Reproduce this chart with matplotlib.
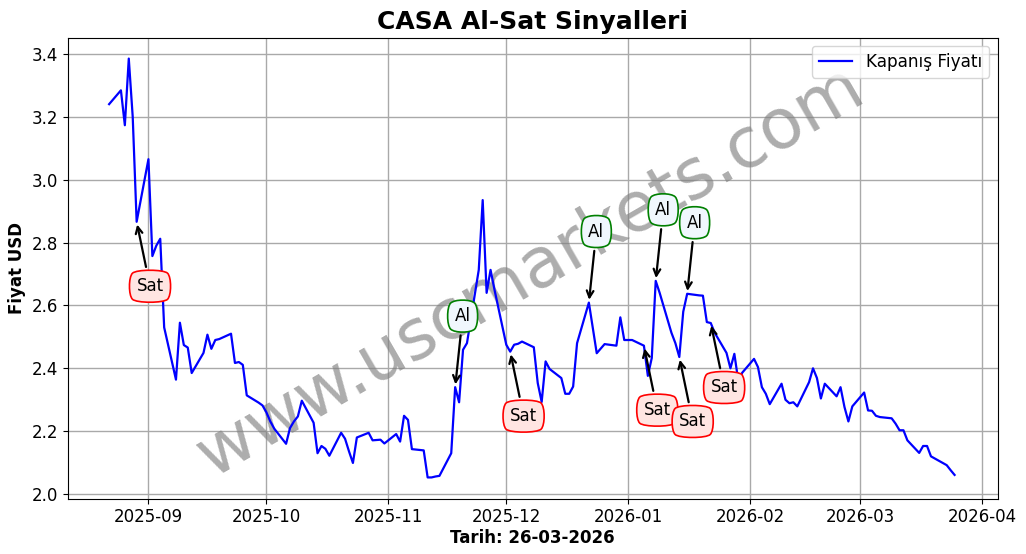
import matplotlib
matplotlib.use('Agg')
import matplotlib.dates as mdates
import matplotlib.pyplot as plt
import pandas as pd

dates = [
    '2025-08-22', '2025-08-25', '2025-08-26', '2025-08-27', '2025-08-28', '2025-08-29',
    '2025-09-01', '2025-09-02', '2025-09-03', '2025-09-04', '2025-09-05', '2025-09-08', '2025-09-09',
    '2025-09-10', '2025-09-11', '2025-09-12', '2025-09-15', '2025-09-16', '2025-09-17', '2025-09-18',
    '2025-09-19', '2025-09-22', '2025-09-23', '2025-09-24', '2025-09-25', '2025-09-26', '2025-09-29',
    '2025-09-30',
    '2025-10-01', '2025-10-02', '2025-10-03', '2025-10-06', '2025-10-07', '2025-10-08', '2025-10-09',
    '2025-10-10', '2025-10-13', '2025-10-14', '2025-10-15', '2025-10-16', '2025-10-17', '2025-10-20',
    '2025-10-21', '2025-10-22', '2025-10-23', '2025-10-24', '2025-10-27', '2025-10-28', '2025-10-29',
    '2025-10-30', '2025-10-31',
    '2025-11-03', '2025-11-04', '2025-11-05', '2025-11-06', '2025-11-07', '2025-11-10', '2025-11-11',
    '2025-11-12', '2025-11-13', '2025-11-14', '2025-11-17', '2025-11-18', '2025-11-19', '2025-11-20',
    '2025-11-21', '2025-11-24', '2025-11-25', '2025-11-26', '2025-11-27', '2025-11-28',
    '2025-12-01', '2025-12-02', '2025-12-03', '2025-12-04', '2025-12-05', '2025-12-08', '2025-12-09',
    '2025-12-10', '2025-12-11', '2025-12-12', '2025-12-15', '2025-12-16', '2025-12-17', '2025-12-18',
    '2025-12-19', '2025-12-22', '2025-12-23', '2025-12-24', '2025-12-26', '2025-12-29', '2025-12-30',
    '2025-12-31',
    '2026-01-02', '2026-01-05', '2026-01-06', '2026-01-07', '2026-01-08', '2026-01-09', '2026-01-12',
    '2026-01-13', '2026-01-14', '2026-01-15', '2026-01-16', '2026-01-19', '2026-01-20', '2026-01-21',
    '2026-01-22', '2026-01-23', '2026-01-26', '2026-01-27', '2026-01-28', '2026-01-29', '2026-01-30',
    '2026-02-02', '2026-02-03', '2026-02-04', '2026-02-05', '2026-02-06', '2026-02-09', '2026-02-10',
    '2026-02-11', '2026-02-12', '2026-02-13', '2026-02-16', '2026-02-17', '2026-02-18', '2026-02-19',
    '2026-02-20', '2026-02-23', '2026-02-24', '2026-02-25', '2026-02-26', '2026-02-27',
    '2026-03-02', '2026-03-03', '2026-03-04', '2026-03-05', '2026-03-06', '2026-03-09', '2026-03-10',
    '2026-03-11', '2026-03-12', '2026-03-13', '2026-03-16', '2026-03-17', '2026-03-18', '2026-03-19',
    '2026-03-20', '2026-03-23', '2026-03-24', '2026-03-25',
]
prices = [
    3.24, 3.284, 3.173, 3.385, 3.2, 2.866,
    3.065, 2.757, 2.79, 2.812, 2.53, 2.364, 2.545,
    2.474, 2.466, 2.385, 2.449, 2.507, 2.462, 2.49,
    2.493, 2.51, 2.417, 2.42, 2.411, 2.314, 2.291,
    2.282,
    2.26, 2.231, 2.208, 2.16, 2.21, 2.231, 2.247,
    2.297, 2.227, 2.13, 2.153, 2.144, 2.122, 2.195,
    2.176, 2.136, 2.099, 2.18, 2.195, 2.171, 2.172,
    2.173, 2.161,
    2.191, 2.167, 2.249, 2.236, 2.143, 2.139, 2.053,
    2.053, 2.056, 2.058, 2.13, 2.34, 2.292, 2.459,
    2.48, 2.713, 2.935, 2.64, 2.713, 2.65,
    2.475, 2.453, 2.475, 2.478, 2.485, 2.467, 2.353,
    2.293, 2.422, 2.398, 2.369, 2.319, 2.319, 2.342,
    2.48, 2.609, 2.529, 2.448, 2.477, 2.472, 2.562,
    2.49,
    2.49, 2.472, 2.376, 2.433, 2.678, 2.64, 2.513,
    2.48, 2.436, 2.58, 2.637, 2.632, 2.631, 2.547,
    2.544, 2.513, 2.449, 2.4, 2.446, 2.36, 2.386,
    2.43, 2.404, 2.34, 2.319, 2.286, 2.351, 2.3,
    2.289, 2.292, 2.279, 2.356, 2.4, 2.369, 2.304,
    2.351, 2.311, 2.34, 2.277, 2.231, 2.279,
    2.323, 2.266, 2.265, 2.249, 2.245, 2.241, 2.224,
    2.203, 2.203, 2.171, 2.131, 2.153, 2.153, 2.12,
    2.113, 2.092, 2.076, 2.061,
]

sell_dates = ['2025-08-29', '2025-12-02', '2026-01-05', '2026-01-14', '2026-01-22']
buy_dates = ['2025-11-18', '2025-12-22', '2026-01-08', '2026-01-16']

series = pd.Series(prices, index=pd.to_datetime(dates))

fig = plt.figure(figsize=(10.26, 5.54), dpi=100)
ax = fig.add_axes([67.5 / 1026, 1 - 498.5 / 554, 930 / 1026, 461 / 554])
ax.plot(series.index, series.values, color='blue', linewidth=1.6, label='Kapanış Fiyatı', zorder=3)


def annotate_signals(signal_dates, text, dx, offset, edge, face):
    for d in signal_dates:
        d = pd.Timestamp(d)
        ax.annotate(text, xy=(d, series[d]), xytext=(d + pd.Timedelta(days=dx), series[d] + offset),
                    ha='center', va='center', fontsize=12, zorder=4,
                    arrowprops=dict(arrowstyle='->', color='black', lw=1.6),
                    bbox=dict(boxstyle='round4,pad=0.48', edgecolor=edge, facecolor=face, linewidth=1.2))


annotate_signals(sell_dates, 'Sat', 3.4, -0.205, 'red', '#ffe5e2')
annotate_signals(buy_dates, 'Al', 1.9, 0.226, 'green', '#f0f7fd')

ax.set_xlim(pd.Timestamp('2025-08-11 10:00'), pd.Timestamp('2026-04-04 22:00'))
ax.set_ylim(1.986, 3.452)
ax.xaxis.set_major_locator(mdates.MonthLocator())
ax.xaxis.set_major_formatter(mdates.DateFormatter('%Y-%m'))
ax.tick_params(labelsize=12)
ax.grid(True, color='darkgray', linewidth=1.0)
ax.set_axisbelow(True)

ax.set_title('CASA Al-Sat Sinyalleri', fontsize=18, fontweight='bold', pad=6)
ax.set_xlabel('Tarih: 26-03-2026', fontsize=12, fontweight='bold', labelpad=2)
ax.set_ylabel('Fiyat USD', fontsize=12, fontweight='bold', labelpad=4)
ax.legend(loc='upper right', fontsize=12.2).set_zorder(6)

# watermark sits over the grid, under the price line and the signal boxes
ax.text(530 / 1026, 1 - 272 / 554, 'www.uscmarkets.com', transform=fig.transFigure, fontsize=50,
        color='gray', alpha=0.65, rotation=30, ha='center', va='center', zorder=2)

plt.savefig('out.png', dpi=100)
